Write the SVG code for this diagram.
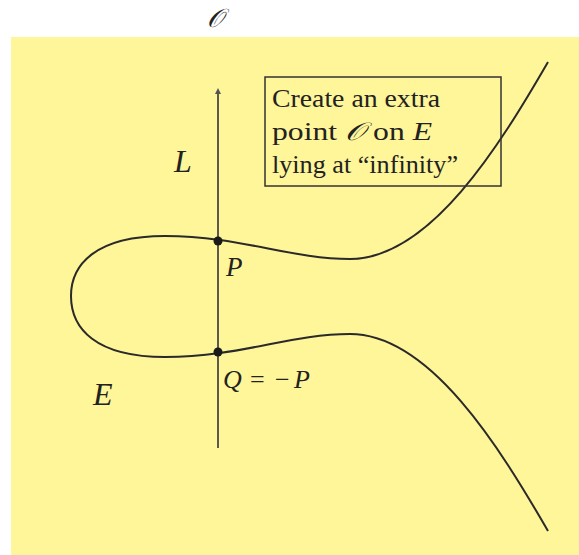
<svg xmlns="http://www.w3.org/2000/svg" width="579" height="555" viewBox="0 0 579 555">
<style>
.t{font-family:"Liberation Serif","DejaVu Serif",serif;fill:#222}
.i{font-style:italic}
.curve{fill:none;stroke:#2a2a2a;stroke-width:2}
</style>
<defs>
<marker id="ah" viewBox="0 0 6 6" refX="3" refY="3" markerWidth="3" markerHeight="3" orient="auto">
<path d="M0,0 L6,3 L0,6 z" fill="#555"/>
</marker>
</defs>
<rect x="0" y="0" width="579" height="555" fill="#fff"/>
<rect x="11" y="37" width="568" height="518" fill="#fff599"/>
<text class="t i" x="207" y="27" font-size="26">𝒪</text>
<g id="connectors">
<line x1="218" y1="448" x2="218" y2="91" stroke="#5a5a50" stroke-width="2" marker-end="url(#ah)"/>
</g>
<g id="curveE">
<path class="curve" d="M548,62 C500,145 430,259 350,259 C290,259 240,236 165,236 C95,236 71,265 71,296 C71,328 95,357 165,357 C240,357 290,334 350,334 C430,334 500,448 548,531"/>
<text class="t i" x="93" y="405" font-size="32">E</text>
</g>
<g id="labelL"><text class="t i" x="174" y="172" font-size="32">L</text></g>
<g id="P">
<circle cx="218" cy="241" r="4.5" fill="#1a1a1a"/>
<text class="t i" x="226" y="276" font-size="27">P</text>
</g>
<g id="Q">
<circle cx="218" cy="352" r="4.5" fill="#1a1a1a"/>
<text class="t" y="388" font-size="26"><tspan class="i" x="223">Q</tspan><tspan x="250">=</tspan><tspan x="275">−</tspan><tspan class="i" x="294">P</tspan></text>
</g>
<g id="note">
<rect x="265" y="77" width="236" height="109" fill="none" stroke="#333" stroke-width="1.5"/>
<text class="t" x="272" y="107" font-size="25" textLength="168" lengthAdjust="spacingAndGlyphs">Create an extra</text>
<text class="t" x="272" y="140" font-size="25" textLength="160" lengthAdjust="spacingAndGlyphs">point <tspan class="i">𝒪</tspan> on <tspan class="i">E</tspan></text>
<text class="t" x="272" y="173" font-size="25" textLength="186" lengthAdjust="spacingAndGlyphs">lying at “infinity”</text>
</g>
</svg>
